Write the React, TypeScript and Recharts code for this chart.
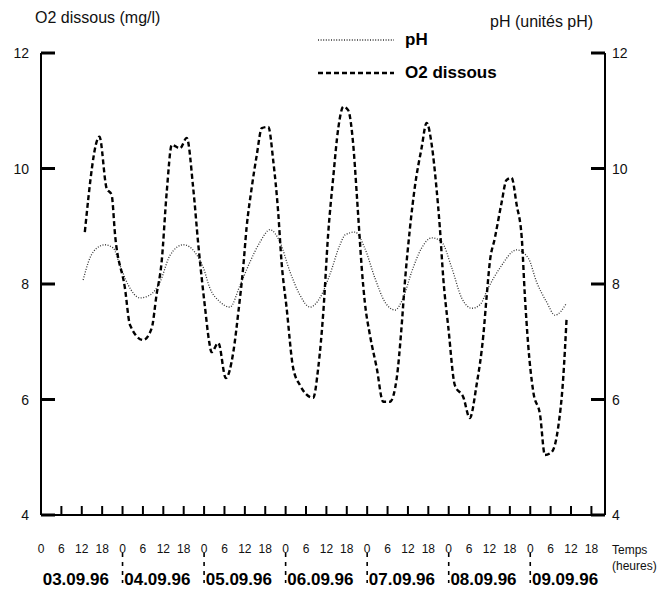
import React from "react";
import { LineChart, Line, XAxis, YAxis, Legend } from "recharts";

// hours counted from 03.09.96 00h
const o2Hours = [12.9, 17.2, 19.3, 20.8, 21.8, 24.7, 26.2, 30.1, 32.6, 34.0, 35.5, 37.0, 38.5, 40.9, 42.9, 44.8, 46.3, 48.3, 49.5, 50.2, 52.2, 54.4, 56.6, 58.1, 59.5, 60.5, 62.0, 63.5, 65.0, 66.9, 68.4, 69.8, 70.8, 72.3, 74.2, 76.2, 80.1, 81.6, 83.1, 84.5, 86.0, 87.5, 89.0, 90.4, 91.9, 92.9, 93.6, 94.4, 95.3, 96.8, 98.8, 100.7, 102.7, 104.7, 106.1, 107.1, 108.6, 110.1, 112.0, 113.5, 115.0, 116.4, 117.4, 118.4, 119.9, 121.8, 124.3, 126.2, 128.2, 130.2, 131.2, 132.1, 133.6, 135.6, 137.0, 138.5, 140.0, 141.5, 142.4, 143.4, 144.9, 146.9, 148.3, 150.3, 152.2, 153.7, 154.7];
const o2Values = [8.9, 10.55, 9.66, 9.54, 8.85, 7.93, 7.29, 7.03, 7.24, 7.81, 8.38, 9.59, 10.41, 10.35, 10.53, 9.66, 8.68, 7.58, 7.0, 6.82, 6.98, 6.37, 6.82, 7.52, 8.28, 8.97, 9.66, 10.23, 10.7, 10.72, 10.11, 9.25, 8.38, 7.58, 6.55, 6.25, 6.03, 6.55, 7.52, 8.85, 9.84, 10.7, 11.07, 11.01, 10.41, 9.59, 8.97, 8.28, 7.69, 7.12, 6.55, 5.96, 5.96, 6.37, 7.24, 8.03, 8.97, 9.71, 10.35, 10.79, 10.41, 9.66, 8.97, 8.1, 7.24, 6.25, 6.04, 5.68, 6.25, 7.12, 7.81, 8.38, 8.8, 9.42, 9.8, 9.84, 9.37, 8.8, 7.81, 6.94, 6.13, 5.73, 5.04, 5.09, 5.51, 6.37, 7.41];

const phHours = [12.4, 14.4, 16.4, 18.8, 21.3, 23.2, 25.7, 29.1, 32.1, 35.0, 38.0, 41.9, 45.3, 47.8, 49.7, 52.7, 55.6, 58.6, 61.5, 64.5, 67.4, 70.3, 73.3, 76.2, 79.2, 82.1, 85.0, 88.0, 89.5, 92.4, 95.3, 98.3, 101.2, 104.2, 106.6, 109.1, 112.0, 115.0, 117.9, 120.9, 123.8, 126.8, 129.2, 131.6, 135.1, 140.0, 143.4, 145.9, 148.8, 151.3, 154.7];
const phValues = [8.07, 8.45, 8.62, 8.68, 8.62, 8.33, 7.98, 7.76, 7.81, 8.03, 8.5, 8.68, 8.55, 8.28, 7.93, 7.69, 7.6, 7.98, 8.38, 8.73, 8.94, 8.73, 8.21, 7.81, 7.6, 7.76, 8.16, 8.68, 8.85, 8.9, 8.62, 8.1, 7.69, 7.55, 7.76, 8.21, 8.62, 8.8, 8.73, 8.28, 7.76, 7.58, 7.64, 7.93, 8.28, 8.59, 8.45, 8.03, 7.69, 7.46, 7.67];

const hourTicks = [0, 6, 12, 18, 24, 30, 36, 42, 48, 54, 60, 66, 72, 78, 84, 90, 96, 102, 108, 114, 120, 126, 132, 138, 144, 150, 156, 162];
const dayLabels = ["03.09.96", "04.09.96", "05.09.96", "06.09.96", "07.09.96", "08.09.96", "09.09.96"];
const yTicks = [4, 6, 8, 10, 12];
const legendOrder = ["pH", "O2 dissous"];

const o2Data = o2Hours.map((h, i) => ({ h, v: o2Values[i] }));
const phData = phHours.map((h, i) => ({ h, v: phValues[i] }));

const font = "'Liberation Sans', Arial, sans-serif";

// hour tick (inward), hour label, and on day boundaries / midday the date row
const HourTick = ({ x, y, payload }: any) => {
  const v = payload.value;
  return (
    <g>
      <line x1={x} y1={y} x2={x} y2={y - 9} stroke="#000" strokeWidth={2} />
      <text x={x} y={y + 38} textAnchor="middle" fontSize={12} fill="#111" fontFamily={font}>
        {v % 24}
      </text>
      {v % 24 === 0 && v > 0 && (
        <line x1={x} y1={y + 38} x2={x} y2={y + 68} stroke="#000" strokeWidth={1.6} strokeDasharray="4 5" />
      )}
      {v % 24 === 12 && (
        <text x={x - 6} y={y + 70} textAnchor="middle" fontSize={17} fontWeight="bold" fill="#000" fontFamily={font}>
          {dayLabels[Math.floor(v / 24)]}
        </text>
      )}
    </g>
  );
};

const LeftTick = ({ x, y, payload }: any) => (
  <g>
    <line x1={x} y1={y} x2={x + 14} y2={y} stroke="#000" strokeWidth={3} />
    <text x={x - 12} y={y + 5} textAnchor="end" fontSize={14} fill="#111" fontFamily={font}>
      {payload.value}
    </text>
  </g>
);

const RightTick = ({ x, y, payload }: any) => (
  <g>
    <line x1={x} y1={y} x2={x - 14} y2={y} stroke="#000" strokeWidth={3} />
    <text x={x + 7} y={y + 5} textAnchor="start" fontSize={14} fill="#111" fontFamily={font}>
      {payload.value}
    </text>
  </g>
);

const LegendBox = ({ payload }: any) => {
  const items = [...(payload || [])].sort(
    (a: any, b: any) => legendOrder.indexOf(a.value) - legendOrder.indexOf(b.value)
  );
  return (
    <div style={{ fontFamily: font }}>
      {items.map((e: any) => (
        <div key={e.value} style={{ display: "flex", alignItems: "center", height: 33 }}>
          <svg width={78} height={6}>
            <line
              x1={0}
              y1={3}
              x2={76}
              y2={3}
              stroke={e.color}
              strokeWidth={e.payload?.strokeWidth}
              strokeDasharray={e.payload?.strokeDasharray}
            />
          </svg>
          <span style={{ marginLeft: 9, fontWeight: "bold", fontSize: 17, color: "#000" }}>{e.value}</span>
        </div>
      ))}
    </div>
  );
};

export default function App() {
  return (
    <div style={{ position: "absolute", left: 0, top: 0, width: 667, height: 611, background: "#fff", fontFamily: font }}>
      <div style={{ position: "absolute", left: 35, top: 9, fontSize: 16, color: "#111" }}>O2 dissous (mg/l)</div>
      <div style={{ position: "absolute", left: 490, top: 13, fontSize: 16, color: "#111" }}>pH (unités pH)</div>
      <div style={{ position: "absolute", left: 612, top: 542, fontSize: 12, color: "#111", lineHeight: "16px" }}>
        Temps
        <br />
        (heures)
      </div>
      <LineChart width={667} height={611} margin={{ top: 53, right: 0, bottom: 0, left: 0 }}>
        <XAxis
          xAxisId="hours"
          dataKey="h"
          type="number"
          domain={[0, 166]}
          ticks={hourTicks}
          interval={0}
          height={96}
          tickSize={0}
          tickMargin={0}
          tick={<HourTick />}
          axisLine={{ stroke: "#000", strokeWidth: 2 }}
          tickLine={false}
        />
        <YAxis
          yAxisId="left"
          type="number"
          domain={[4, 12]}
          ticks={yTicks}
          interval={0}
          width={41}
          tickSize={0}
          tickMargin={0}
          tick={<LeftTick />}
          axisLine={{ stroke: "#000", strokeWidth: 2 }}
          tickLine={false}
        />
        <YAxis
          yAxisId="right"
          orientation="right"
          type="number"
          domain={[4, 12]}
          ticks={yTicks}
          interval={0}
          width={62}
          tickSize={0}
          tickMargin={0}
          tick={<RightTick />}
          axisLine={{ stroke: "#000", strokeWidth: 2 }}
          tickLine={false}
        />
        <Legend
          layout="vertical"
          align="center"
          verticalAlign="middle"
          wrapperStyle={{ left: 318, top: 23, width: 200 }}
          content={<LegendBox />}
        />
        <Line
          name="pH"
          data={phData}
          dataKey="v"
          xAxisId="hours"
          yAxisId="right"
          type="monotone"
          stroke="#333"
          strokeWidth={1.3}
          strokeDasharray="1 1.6"
          dot={false}
          isAnimationActive={false}
        />
        <Line
          name="O2 dissous"
          data={o2Data}
          dataKey="v"
          xAxisId="hours"
          yAxisId="left"
          type="monotone"
          stroke="#000"
          strokeWidth={2.4}
          strokeDasharray="5 3"
          dot={false}
          isAnimationActive={false}
        />
      </LineChart>
    </div>
  );
}
